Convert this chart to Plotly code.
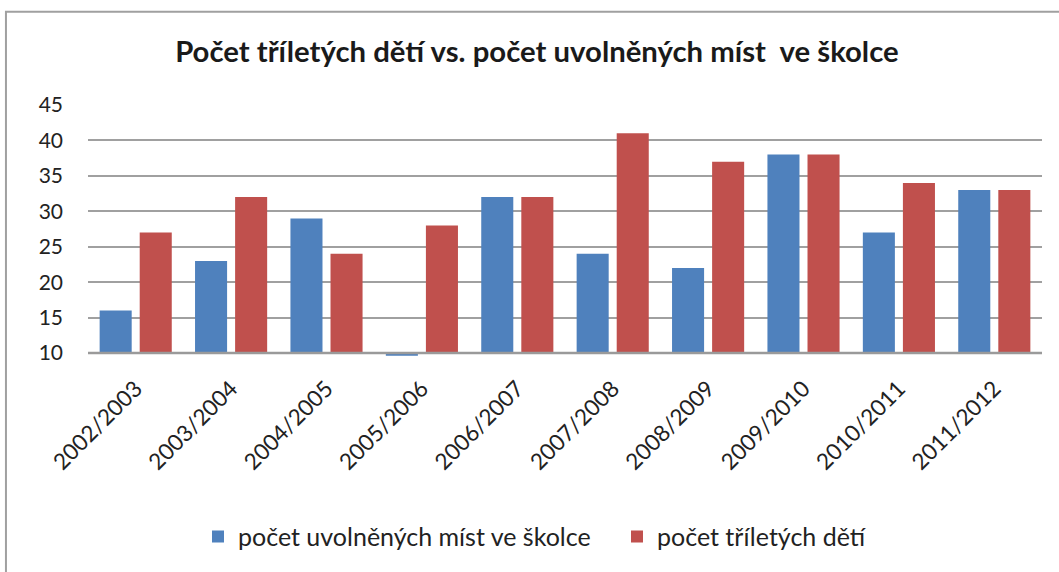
import plotly.graph_objects as go

categories = ["2002/2003", "2003/2004", "2004/2005", "2005/2006", "2006/2007",
              "2007/2008", "2008/2009", "2009/2010", "2010/2011", "2011/2012"]
uvolnena_mista = [16, 23, 29, 9.6, 32, 24, 22, 38, 27, 33]
trilete_deti = [27, 32, 24, 28, 32, 41, 37, 38, 34, 33]
tick_vals = [10, 15, 20, 25, 30, 35, 40, 45]

BASE = 10
FONT = "Lato, Calibri, Carlito, sans-serif"

fig = go.Figure()
fig.add_trace(go.Bar(
    x=categories, y=[v - BASE for v in uvolnena_mista], base=BASE,
    name="počet uvolněných míst ve školce",
    marker=dict(color="#4F81BD", line=dict(width=0)),
    legend="legend",
))
fig.add_trace(go.Bar(
    x=categories, y=[v - BASE for v in trilete_deti], base=BASE,
    name="počet tříletých dětí",
    marker=dict(color="#C0504D", line=dict(width=0)),
    legend="legend2",
))

leg_common = dict(orientation="h", xanchor="left", y=-0.72, yanchor="middle",
                  font=dict(size=25, family=FONT, color="#222222"),
                  itemwidth=30, bgcolor="rgba(0,0,0,0)")

fig.update_layout(
    width=1059, height=572,
    margin=dict(l=88, r=17, t=105, b=214),
    paper_bgcolor="white", plot_bgcolor="white",
    barmode="group", bargap=0.16, bargroupgap=0.2,
    font=dict(family=FONT, color="#222222"),
    title=dict(text="<b>Počet tříletých dětí vs. počet uvolněných míst  ve školce</b>",
               x=0.507, xanchor="center", y=0.909, yanchor="middle",
               font=dict(size=29.3, family=FONT, color="#1a1a1a")),
    showlegend=True,
    legend=dict(x=0.1153, **leg_common),
    legend2=dict(x=0.5545, **leg_common),
    xaxis=dict(tickangle=-45, tickfont=dict(size=22.5, family=FONT, color="#222222"),
               showgrid=False, showline=False, ticks="", ticklabelstandoff=14),
    yaxis=dict(range=[9.58, 45], tickvals=tick_vals, showgrid=True,
               gridcolor="#a0a0a0", gridwidth=1.5, zeroline=False,
               tickfont=dict(size=21, family=FONT, color="#222222"),
               ticks="", ticklabelstandoff=24, showline=False),
    shapes=[
        dict(type="line", xref="paper", yref="y", x0=0, x1=1, y0=10, y1=10,
             line=dict(color="#9a9a9a", width=2.5), layer="above"),
        dict(type="rect", xref="paper", yref="paper",
             x0=-0.086, x1=1.03, y0=-0.9, y1=1.3715,
             line=dict(color="#a0a0a0", width=2)),
    ],
)

fig.write_html("out.html", config={"displayModeBar": False},
               post_script="document.body.style.margin='0';document.body.style.padding='0';")
